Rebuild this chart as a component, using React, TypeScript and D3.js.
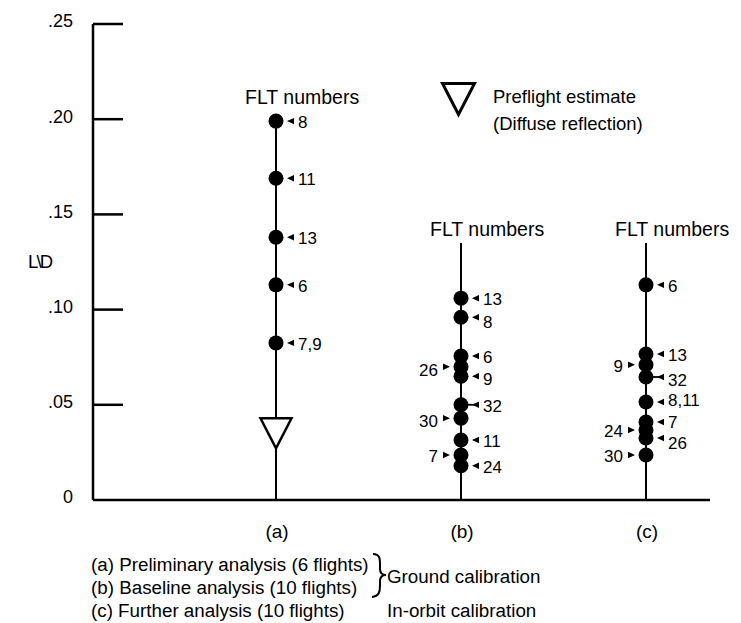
import React from "react";
import * as d3 from "d3";

// ---------- data ----------
const categories = ["(a)", "(b)", "(c)"];
const yTicks = [0, 0.05, 0.1, 0.15, 0.2, 0.25];
const yTickLabels = ["0", ".05", ".10", ".15", ".20", ".25"];

const aFlights = ["8", "11", "13", "6", "7,9"];
const aValues = [0.199, 0.169, 0.138, 0.113, 0.0825];
const aLabelSide = ["r", "r", "r", "r", "r"];

const bFlights = ["13", "8", "6", "26", "9", "32", "30", "11", "7", "24"];
const bValues = [0.106, 0.096, 0.0756, 0.07, 0.065, 0.05, 0.043, 0.0315, 0.0236, 0.018];
const bLabelSide = ["r", "r", "r", "l", "r", "r", "l", "r", "l", "r"];

const cFlights = ["6", "13", "9", "32", "8,11", "7", "24", "26", "30"];
const cValues = [0.113, 0.0767, 0.071, 0.0646, 0.0515, 0.041, 0.0368, 0.0326, 0.0236];
const cLabelSide = ["r", "r", "l", "r", "r", "r", "l", "r", "l"];

const preflightEstimate = 0.035;
const headerText = "FLT numbers";
const preflightLegend = ["Preflight estimate", "(Diffuse reflection)"];
const analysisLines = [
  "(a) Preliminary analysis (6 flights)",
  "(b) Baseline analysis (10 flights)",
  "(c) Further analysis (10 flights)",
];
const calibrationLabels = ["Ground calibration", "In-orbit calibration"];
const yAxisTitle = "L\\D";

// ---------- layout ----------
const W = 741;
const H = 623;
const FONT = "'Liberation Sans', Arial, Helvetica, sans-serif";
const axisX = 93;

const x = d3.scalePoint<string>().domain(categories).range([276, 646]);
const y = d3.scaleLinear().domain([0, 0.25]).range([500, 24]);

const columns = [
  { cat: "(a)", flights: aFlights, values: aValues, sides: aLabelSide, stemTop: 0.199, headerY: 97 },
  { cat: "(b)", flights: bFlights, values: bValues, sides: bLabelSide, stemTop: 0.135, headerY: 229 },
  { cat: "(c)", flights: cFlights, values: cValues, sides: cLabelSide, stemTop: 0.135, headerY: 229 },
];
const leaders = new Set(["(b)-32", "(c)-32"]);
// small vertical nudges of label text (px), as in the original drawing
const labelNudge: Record<string, number> = {
  "(b)-8": 4,
  "(b)-9": 2,
  "(b)-26": 2,
  "(b)-30": 2,
  "(c)-8,11": -3,
  "(c)-7": -1,
  "(c)-26": 4,
  "(c)-32": 2,
};

const R = 7.5;

function triPath(cx: number, cy: number, w: number, h: number) {
  return `M${cx - w / 2},${cy - h / 2} L${cx + w / 2},${cy - h / 2} L${cx},${cy + h / 2} Z`;
}

export default function App() {
  const legendY = [564, 587, 610];
  return (
    <svg
      width={W}
      height={H}
      style={{ position: "absolute", left: 0, top: 0, display: "block", background: "#fff" }}
      fontFamily={FONT}
    >
      <rect x={0} y={0} width={W} height={H} fill="#fff" />
      {/* y axis */}
      <line x1={axisX} y1={y(0.25)} x2={axisX} y2={y(0)} stroke="#000" strokeWidth={2.5} />
      {yTicks.map((t, i) => (
        <g key={t}>
          {t > 0 && (
            <line x1={axisX} x2={axisX + 30} y1={y(t)} y2={y(t)} stroke="#000" strokeWidth={2.5} />
          )}
          <text x={73} y={y(t) - 3} dy="0.35em" textAnchor="end" fontSize={18} fill="#000">
            {yTickLabels[i]}
          </text>
        </g>
      ))}
      <text x={28} y={262} dy="0.35em" fontSize={18.5} letterSpacing={-1.8} fill="#000">
        {yAxisTitle}
      </text>
      {/* x axis */}
      <line x1={axisX} x2={710} y1={y(0)} y2={y(0)} stroke="#000" strokeWidth={2.5} />
      {categories.map((c) => (
        <text key={c} x={(x(c) as number) + 1} y={531} dy="0.35em" textAnchor="middle" fontSize={19} fill="#000">
          {c}
        </text>
      ))}

      {/* columns */}
      {columns.map((col) => {
        const cx = x(col.cat) as number;
        return (
          <g key={col.cat}>
            <line x1={cx} x2={cx} y1={y(col.stemTop)} y2={y(0)} stroke="#000" strokeWidth={2} />
            <text x={cx - 31} y={col.headerY} dy="0.35em" fontSize={19.5} fill="#000">
              {headerText}
            </text>
            {col.values.map((v, i) => (
              <circle key={"d" + i} cx={cx} cy={y(v)} r={R} fill="#000" />
            ))}
            {col.values.map((v, i) => {
              const cy = y(v);
              const right = col.sides[i] === "r";
              const s = right ? 1 : -1;
              const tip = cx + s * 11;
              const base = cx + s * 18;
              const lbl = col.flights[i];
              const key = col.cat + "-" + lbl;
              const nudge = labelNudge[key] ?? 0;
              return (
                <g key={"l" + i}>
                  {leaders.has(key) && (
                    <line x1={cx} x2={base} y1={cy} y2={cy} stroke="#000" strokeWidth={1.8} />
                  )}
                  <path d={`M${tip},${cy} L${base},${cy - 3.2} L${base},${cy + 3.2} Z`} fill="#000" />
                  <text
                    x={cx + s * (right ? 22 : 23)}
                    y={cy + 1 + nudge}
                    dy="0.35em"
                    textAnchor={right ? "start" : "end"}
                    fontSize={17}
                    fill="#000"
                  >
                    {lbl}
                  </text>
                </g>
              );
            })}
          </g>
        );
      })}

      {/* preflight estimate marker */}
      <path
        d={triPath(x("(a)") as number, y(preflightEstimate), 31, 30)}
        fill="#fff"
        stroke="#000"
        strokeWidth={2.5}
        strokeLinejoin="miter"
      />

      {/* preflight legend */}
      <path d={triPath(458.5, 99, 32, 31)} fill="#fff" stroke="#000" strokeWidth={3} />
      <text x={493} y={97} dy="0.35em" fontSize={18.5} fill="#000">
        {preflightLegend[0]}
      </text>
      <text x={493} y={124} dy="0.35em" fontSize={18.5} fill="#000">
        {preflightLegend[1]}
      </text>

      {/* bottom legend */}
      {analysisLines.map((t, i) => (
        <text key={t} x={91} y={legendY[i]} dy="0.35em" fontSize={18.8} fill="#000">
          {t}
        </text>
      ))}
      <path
        d="M373,554 C380,554 380,559 380,565 L380,569 C380,573 382,575 386,575 C382,575 380,577 380,581 L380,586 C380,592 379,596 372,597"
        fill="none"
        stroke="#000"
        strokeWidth={2}
      />
      <text x={387} y={576} dy="0.35em" fontSize={18.8} fill="#000">
        {calibrationLabels[0]}
      </text>
      <text x={387} y={legendY[2]} dy="0.35em" fontSize={18.8} fill="#000">
        {calibrationLabels[1]}
      </text>
    </svg>
  );
}
